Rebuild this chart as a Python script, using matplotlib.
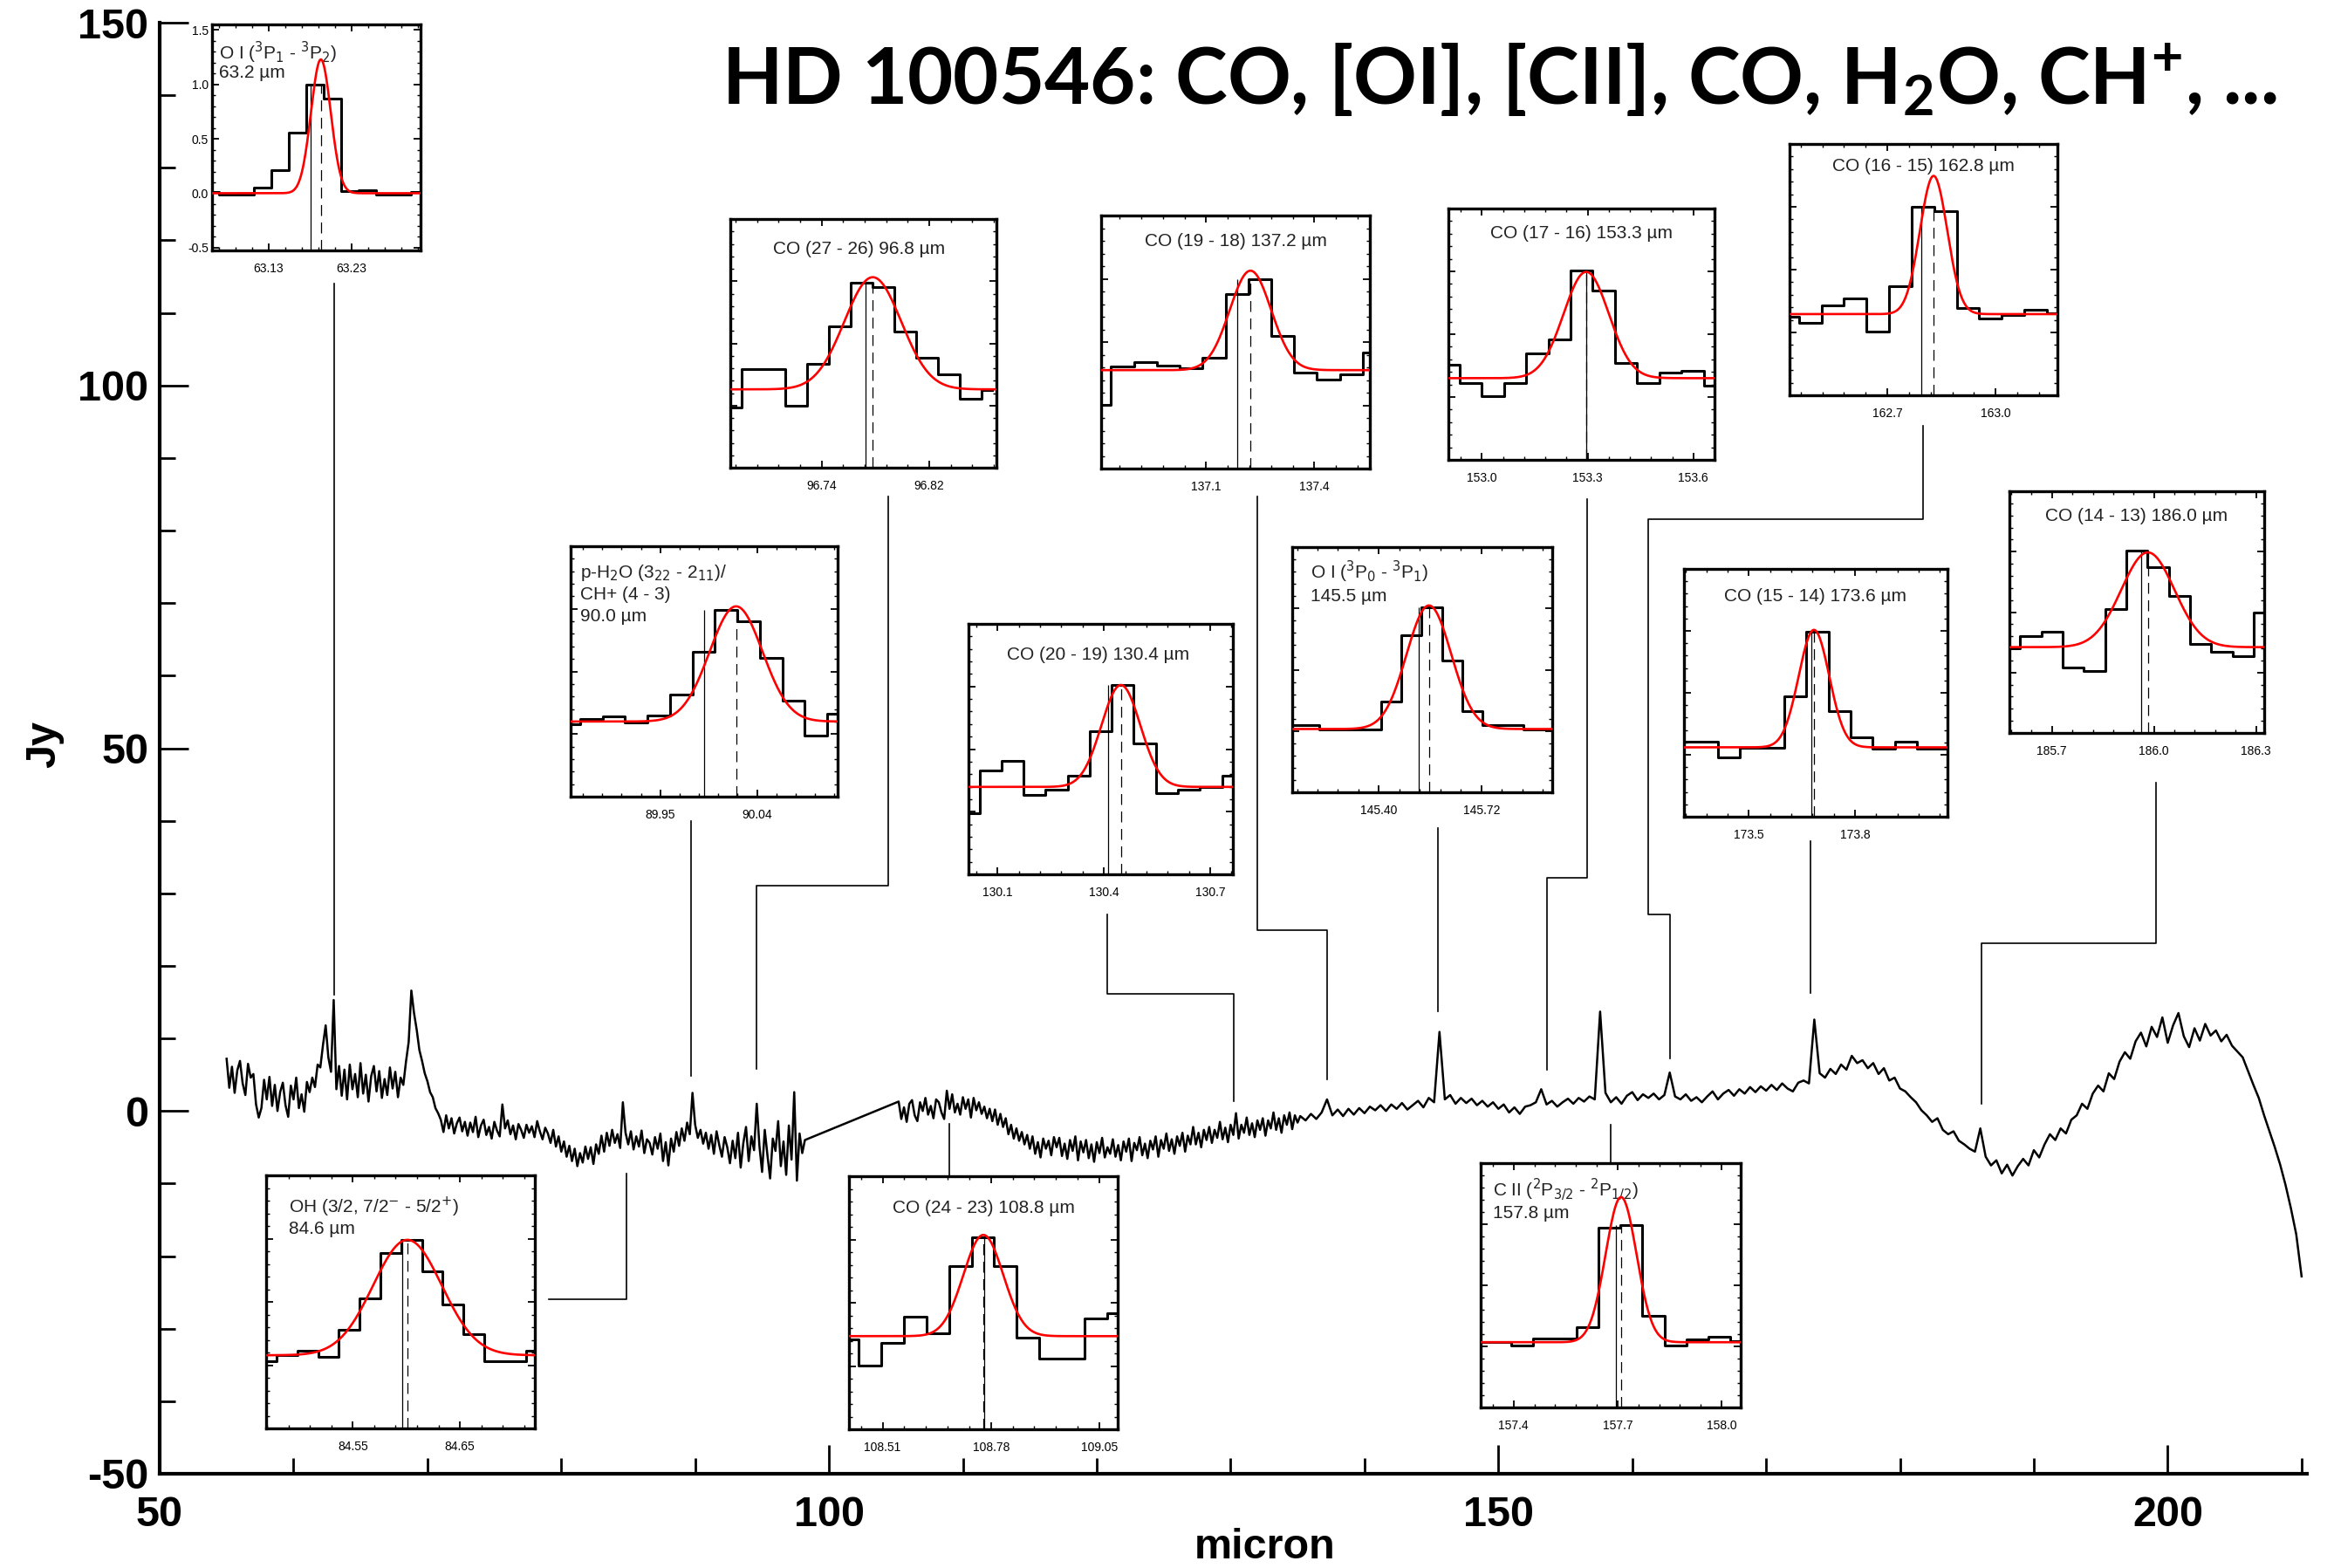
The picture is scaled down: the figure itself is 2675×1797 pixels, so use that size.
import numpy as np
import matplotlib
matplotlib.use("Agg")
import matplotlib.pyplot as plt
from matplotlib import font_manager
from matplotlib.ticker import MultipleLocator, AutoMinorLocator, FixedLocator

plt.rcParams["axes.unicode_minus"] = False
plt.rcParams["font.family"] = ["Liberation Sans", "DejaVu Sans"]
plt.rcParams["mathtext.rm"] = "Lato:bold"
plt.rcParams["mathtext.it"] = "Lato:bold"
plt.rcParams["mathtext.bf"] = "Lato:bold"

names = {f.name for f in font_manager.fontManager.ttflist}
narrow = "Liberation Sans Narrow" if "Liberation Sans Narrow" in names else "Liberation Sans"

# ---------------- PACS spectrum (micron, Jy) ----------------
wl_a = np.linspace(55.0, 98.2, 217)
flux_a = [7.2, 3.2, 6.1, 2.5, 5.6, 6.9, 3.8, 2.2, 6.5, 4.6,
          5.1, 0.9, -0.9, 0.4, 4.3, 1.6, 4.7, 0.7, 3.6, 0.0,
          2.6, 3.9, 0.8, -0.8, 3.5, 1.6, 4.6, 0.4, 2.3, -0.1,
          4.0, 2.6, 4.6, 3.3, 6.4, 6.0, 9.1, 11.8, 7.4, 5.4,
          15.3, 3.0, 6.2, 2.1, 5.7, 1.6, 6.4, 3.0, 5.1, 1.9,
          6.6, 2.4, 5.0, 1.3, 4.8, 6.2, 2.7, 5.5, 1.8, 4.4,
          2.2, 6.0, 3.1, 5.4, 1.9, 4.6, 3.6, 6.8, 9.5, 16.6,
          13.5, 11.2, 8.4, 6.9, 5.2, 4.1, 2.6, 1.9, 0.4, -0.3,
          -1.2, -2.9, -0.6, -2.4, -1.0, -3.1, -1.7, -0.9, -2.8, -1.5,
          -3.4, -1.6, -2.9, -0.8, -3.6, -2.0, -1.2, -3.3, -2.2, -3.8,
          -1.5, -2.7, -3.5, 0.9, -2.4, -1.3, -3.2, -2.0, -3.9, -1.8,
          -2.6, -3.7, -1.9, -3.0, -2.1, -3.6, -1.4, -2.8, -3.9, -2.3,
          -3.1, -4.4, -2.6, -4.9, -3.5, -5.6, -4.2, -6.3, -4.8, -6.9,
          -5.2, -7.6, -5.8, -7.1, -4.9, -6.6, -5.0, -7.3, -4.6, -5.9,
          -3.4, -5.6, -3.0, -4.8, -2.6, -4.4, -3.2, -5.1, 1.2, -3.0,
          -4.6, -2.8, -5.3, -3.5, -4.9, -2.7, -5.8, -3.9, -4.4, -6.0,
          -3.6, -5.2, -3.1, -6.9, -4.3, -7.5, -3.8, -5.6, -2.9, -4.8,
          -2.4, -4.1, -1.6, -3.2, 2.5, -1.9, -3.7, -2.6, -4.5, -3.0,
          -5.2, -3.3, -5.9, -2.8, -4.7, -6.3, -3.6, -5.0, -7.2, -4.1,
          -6.5, -3.0, -7.8, -4.4, -2.2, -6.9, -3.5, -5.4, 1.0, -4.8,
          -8.4, -2.6, -6.1, -9.3, -3.8, -5.5, -1.4, -7.6, -4.2, -8.8,
          -2.0, -6.7, 2.6, -9.6, -3.1, -5.8, -4.0]

wl_b1 = np.linspace(105.2, 135.0, 150)
flux_b1 = [1.3, -1.1, 0.5, -1.5, 1.0, 1.5, -0.6, -1.4, 1.2, 0.0,
           1.8, -0.5, 0.7, -1.0, 1.6, 1.2, -0.2, -1.1, 2.8, 0.3,
           2.3, -0.2, 1.0, -0.5, 1.9, 0.3, 1.6, -0.9, 1.8, 0.1,
           1.2, -0.4, 0.6, -1.0, 0.3, -1.4, 0.2, -1.9, -0.4, -2.2,
           -1.0, -3.2, -1.9, -3.8, -2.4, -4.1, -2.9, -4.6, -3.3, -5.2,
           -3.5, -5.9, -4.3, -6.4, -3.8, -5.2, -4.1, -6.1, -3.6, -5.0,
           -3.7, -6.2, -4.5, -6.6, -4.0, -5.5, -3.5, -6.8, -4.2, -5.7,
           -4.0, -6.5, -4.6, -7.0, -4.3, -5.8, -3.7, -6.4, -5.0, -5.9,
           -3.9, -6.3, -4.7, -6.8, -4.2, -5.6, -3.8, -6.9, -4.4, -5.4,
           -3.6, -6.1, -4.5, -6.5, -4.1, -5.3, -3.5, -6.3, -4.0, -5.2,
           -3.1, -5.5, -3.9, -5.9, -3.5, -4.8, -3.0, -5.6, -3.4, -4.6,
           -2.2, -4.6, -3.0, -5.0, -2.6, -4.0, -2.2, -4.4, -2.6, -3.7,
           -1.5, -3.9, -2.3, -4.3, -1.9, -3.3, -0.3, -3.8, -1.9, -3.0,
           -0.9, -3.3, -1.7, -3.6, -1.3, -2.6, -1.0, -3.4, -1.3, -2.4,
           -0.2, -2.6, -1.0, -3.0, -0.6, -1.9, -0.2, -2.5, -0.6, -1.6]

wl_b2 = np.linspace(135.2, 210.0, 188)
flux_b2 = [-0.7, -1.3, -0.4, -1.1, -0.2,
           1.6, -0.6, 0.2, -0.7, 0.3, -0.5, 0.4, -0.3, 0.6, 0.1,
           0.8, 0.0, 0.9, 0.3, 1.1, 0.2, 0.8, 1.4, 0.5, 1.8,
           1.2, 10.9, 1.6, 2.2, 1.0, 1.8, 1.1, 1.7, 0.8, 1.4,
           0.6, 1.2, 0.3, 0.9, -0.2, 0.5, -0.4, 0.6, 0.8, 1.2,
           3.0, 0.9, 1.4, 0.6, 1.2, 1.7, 1.0, 1.8, 1.3, 2.0,
           1.6, 13.7, 2.5, 1.2, 1.9, 1.0, 2.1, 2.6, 1.5, 2.3,
           1.8, 2.4, 1.6, 2.2, 5.3, 2.0, 1.6, 2.3, 1.4, 1.9,
           1.2, 2.0, 2.7, 1.6, 2.4, 2.9, 2.1, 3.0, 2.4, 3.3,
           2.6, 3.4, 2.8, 3.6, 2.9, 3.8, 3.1, 2.7, 3.9, 4.2,
           3.8, 12.6, 5.2, 4.6, 5.8, 5.1, 6.4, 5.7, 7.6, 6.6,
           7.0, 5.9, 6.6, 5.1, 5.9, 4.2, 4.6, 3.1, 2.7, 1.9,
           1.2, 0.1, -0.6, -1.5, -1.0, -2.6, -3.2, -2.8, -4.1, -4.6,
           -5.2, -5.6, -2.4, -6.3, -7.5, -6.8, -8.6, -7.4, -8.9, -7.6,
           -6.6, -7.5, -5.4, -6.4, -4.6, -3.2, -4.0, -2.4, -3.1, -1.2,
           -0.6, 1.0, 0.3, 2.4, 3.5, 2.7, 5.2, 4.4, 6.8, 8.1,
           7.2, 9.6, 10.8, 8.9, 11.6, 10.2, 12.9, 9.4, 11.8, 13.5,
           10.3, 8.8, 11.4, 9.7, 12.0, 10.4, 11.1, 9.6, 10.5, 9.0,
           8.2, 7.4, 5.5, 3.6, 1.8, -0.6, -2.8, -5.0, -7.4, -10.2,
           -13.4, -17.0, -22.8]

# leader lines from spectral features to the zoom boxes (micron, Jy)
leaders = [
    [(63.05, 114.0), (63.05, 16.0)],
    [(79.1, -25.9), (84.9, -25.9), (84.9, -8.6)],
    [(89.7, 40.0), (89.7, 4.9)],
    [(104.4, 84.7), (104.4, 31.0), (94.6, 31.0), (94.6, 5.8)],
    [(109.0, -9.2), (109.0, -1.8)],
    [(120.8, 27.1), (120.8, 16.1), (130.2, 16.1), (130.2, 1.3)],
    [(132.0, 84.7), (132.0, 24.9), (137.2, 24.9), (137.2, 4.3)],
    [(145.5, 39.0), (145.5, 13.8)],
    [(156.6, 84.3), (156.6, 32.2), (153.6, 32.2), (153.6, 5.7)],
    [(158.4, -7.4), (158.4, -1.9)],
    [(181.7, 94.4), (181.7, 81.6), (161.2, 81.6), (161.2, 27.1), (162.8, 27.1), (162.8, 7.3)],
    [(173.3, 37.2), (173.3, 16.3)],
    [(199.1, 45.3), (199.1, 23.1), (186.1, 23.1), (186.1, 1.0)],
]

# ---------------- zoomed line profiles (binned flux, normalised) ----------------
oi63_flux = [0.01, -0.01, -0.01, 0.05, 0.21, 0.56, 1.00, 0.87, 0.02, 0.03, -0.01, -0.01, 0.01]
h2o90_flux = [0.29, 0.311, 0.319, 0.296, 0.325, 0.406, 0.58, 0.745, 0.702, 0.555, 0.385, 0.244, 0.331]
co2726_flux = [0.243, 0.397, 0.397, 0.249, 0.418, 0.570, 0.745, 0.728, 0.547, 0.442, 0.377, 0.278, 0.313]
co1918_flux = [0.253, 0.405, 0.422, 0.407, 0.397, 0.439, 0.690, 0.747, 0.525, 0.379, 0.351, 0.374, 0.460]
co1716_flux = [0.377, 0.307, 0.252, 0.304, 0.424, 0.479, 0.754, 0.675, 0.386, 0.307, 0.346, 0.354, 0.296]
co1615_flux = [0.312, 0.287, 0.356, 0.384, 0.254, 0.434, 0.749, 0.734, 0.347, 0.306, 0.321, 0.341, 0.326]
co2019_flux = [0.244, 0.416, 0.453, 0.316, 0.337, 0.393, 0.570, 0.756, 0.523, 0.323, 0.337, 0.347, 0.393]
oi145_flux = [0.273, 0.273, 0.255, 0.255, 0.255, 0.370, 0.641, 0.753, 0.536, 0.332, 0.273, 0.275, 0.255, 0.255]
co1514_flux = [0.302, 0.302, 0.241, 0.279, 0.279, 0.487, 0.748, 0.426, 0.320, 0.273, 0.302, 0.273, 0.273]
co1413_flux = [0.349, 0.401, 0.418, 0.271, 0.255, 0.514, 0.755, 0.687, 0.566, 0.370, 0.337, 0.319, 0.500]
oh84_flux = [0.266, 0.291, 0.306, 0.283, 0.390, 0.513, 0.693, 0.745, 0.619, 0.490, 0.372, 0.266, 0.266, 0.306]
co2423_flux = [0.356, 0.253, 0.341, 0.445, 0.379, 0.644, 0.759, 0.644, 0.362, 0.279, 0.279, 0.439, 0.460]
cii158_flux = [0.267, 0.267, 0.252, 0.281, 0.281, 0.330, 0.736, 0.746, 0.374, 0.255, 0.279, 0.291, 0.271]

# first bin centre and bin width (micron)
bins = {
    "oi63": (63.060, 0.021), "h2o90": (89.865, 0.0209), "co2726": (96.6725, 0.0162),
    "co1918": (136.805, 0.0634), "co1716": (152.905, 0.0630), "co1615": (162.424, 0.0624),
    "co2019": (130.018, 0.0622), "oi145": (145.119, 0.0637), "co1514": (173.318, 0.0626),
    "co1413": (185.575, 0.0625), "oh84": (84.469, 0.0194), "co2423": (108.422, 0.0563),
    "cii158": (157.297, 0.0633),
}
# gaussian fits: continuum, amplitude, centre, fwhm
fits = {
    "oi63": (0.0, 1.23, 63.193, 0.028), "h2o90": (0.30, 0.46, 90.0205, 0.058),
    "co2726": (0.315, 0.451, 96.778, 0.0497), "co1918": (0.389, 0.393, 137.223, 0.135),
    "co1716": (0.325, 0.423, 153.296, 0.151), "co1615": (0.323, 0.55, 162.828, 0.089),
    "co2019": (0.349, 0.407, 130.448, 0.129), "oi145": (0.258, 0.504, 145.556, 0.164),
    "co1514": (0.28, 0.474, 173.684, 0.102), "co1413": (0.355, 0.392, 185.982, 0.184),
    "oh84": (0.289, 0.456, 84.601, 0.0754), "co2423": (0.368, 0.40, 108.761, 0.117),
    "cii158": (0.267, 0.594, 157.710, 0.105),
}
rest_wl = {
    "oi63": 63.181, "h2o90": 89.991, "co2726": 96.7725, "co1918": 137.186, "co1716": 153.296,
    "co1615": 162.794, "co2019": 130.411, "oi145": 145.525, "co1514": 173.677,
    "co1413": 185.962, "oh84": 84.596, "co2423": 108.764, "cii158": 157.694,
}
xranges = {
    "oi63": (63.062, 63.313), "h2o90": (89.8665, 90.115), "co2726": (96.672, 96.870),
    "co1918": (136.809, 137.554), "co1716": (152.905, 153.66), "co1615": (162.429, 163.171),
    "co2019": (130.018, 130.764), "oi145": (145.129, 145.941), "co1514": (173.316, 174.062),
    "co1413": (185.575, 186.324), "oh84": (84.469, 84.720), "co2423": (108.426, 109.096),
    "cii158": (157.305, 158.055),
}
xtick_labels = {
    "oi63": ["63.13", "63.23"], "h2o90": ["89.95", "90.04"], "co2726": ["96.74", "96.82"],
    "co1918": ["137.1", "137.4"], "co1716": ["153.0", "153.3", "153.6"],
    "co1615": ["162.7", "163.0"], "co2019": ["130.1", "130.4", "130.7"],
    "oi145": ["145.40", "145.72"], "co1514": ["173.5", "173.8"],
    "co1413": ["185.7", "186.0", "186.3"], "oh84": ["84.55", "84.65"],
    "co2423": ["108.51", "108.78", "109.05"], "cii158": ["157.4", "157.7", "158.0"],
}
titles = {
    "oi63": ["O I ($^3$P$_1$ - $^3$P$_2$)", "63.2 µm"],
    "h2o90": ["p-H$_2$O (3$_{22}$ - 2$_{11}$)/", "CH+ (4 - 3)", "90.0 µm"],
    "co2726": ["CO (27 - 26) 96.8 µm"], "co1918": ["CO (19 - 18) 137.2 µm"],
    "co1716": ["CO (17 - 16) 153.3 µm"], "co1615": ["CO (16 - 15) 162.8 µm"],
    "co2019": ["CO (20 - 19) 130.4 µm"],
    "oi145": ["O I ($^3$P$_0$ - $^3$P$_1$)", "145.5 µm"],
    "co1514": ["CO (15 - 14) 173.6 µm"], "co1413": ["CO (14 - 13) 186.0 µm"],
    "oh84": ["OH (3/2, 7/2$^{-}$ - 5/2$^{+}$)", "84.6 µm"],
    "co2423": ["CO (24 - 23) 108.8 µm"],
    "cii158": ["C II ($^2$P$_{3/2}$ - $^2$P$_{1/2}$)", "157.8 µm"],
}
profiles = {
    "oi63": oi63_flux, "h2o90": h2o90_flux, "co2726": co2726_flux, "co1918": co1918_flux,
    "co1716": co1716_flux, "co1615": co1615_flux, "co2019": co2019_flux, "oi145": oi145_flux,
    "co1514": co1514_flux, "co1413": co1413_flux, "oh84": oh84_flux, "co2423": co2423_flux,
    "cii158": cii158_flux,
}

# layout: box in pixels (left, right, top, bottom), label x, label ys, alignment
W, H = 2675, 1797
layout = {
    "oi63": ((243, 482, 28, 287), 0.035, [0.875, 0.785], "left"),
    "h2o90": ((654, 960, 626, 913), 0.036, [0.893, 0.806, 0.719], "left"),
    "co2726": ((837, 1142, 251, 536), 0.485, [0.88], "center"),
    "co1918": ((1262, 1570, 247, 537), 0.5, [0.897], "center"),
    "co1716": ((1660, 1965, 239, 527), 0.5, [0.90], "center"),
    "co1615": ((2051, 2358, 165, 453), 0.5, [0.913], "center"),
    "co2019": ((1110, 1413, 715, 1002), 0.49, [0.878], "center"),
    "oi145": ((1481, 1779, 627, 908), 0.07, [0.90, 0.80], "left"),
    "co1514": ((1930, 2232, 652, 936), 0.5, [0.889], "center"),
    "co1413": ((2303, 2595, 563, 840), 0.5, [0.898], "center"),
    "oh84": ((305, 613, 1347, 1637), 0.084, [0.874, 0.788], "left"),
    "co2423": ((973, 1281, 1348, 1638), 0.5, [0.874], "center"),
    "cii158": ((1697, 1995, 1333, 1613), 0.048, [0.891, 0.796], "left"),
}

fig = plt.figure(figsize=(W / 100, H / 100), dpi=100)

# ---------------- main spectrum ----------------
ax = fig.add_axes([183 / W, 1 - 1689 / H, (2644 - 183) / W, (1689 - 26) / H])
wl = np.concatenate([wl_a, wl_b1, wl_b2])
flux = np.concatenate([flux_a, flux_b1, flux_b2])
ax.plot(wl, flux, color="black", lw=1.8, zorder=3)
for path in leaders:
    xs, ys = zip(*path)
    ax.plot(xs, ys, color="black", lw=1.2, zorder=2)

ax.set_xlim(50, 210.4)
ax.set_ylim(-50, 150)
ax.spines[["top", "right"]].set_visible(False)
ax.spines[["left", "bottom"]].set_linewidth(3)
ax.set_xticks([50, 100, 150, 200], labels=["50", "100", "150", "200"],
              fontsize=35, fontweight="bold", fontfamily=narrow)
ax.set_yticks([-50, 0, 50, 100, 150], labels=["-50", "0", "50", "100", "150"],
              fontsize=35, fontweight="bold", fontfamily=narrow)
ax.xaxis.set_minor_locator(MultipleLocator(10))
ax.yaxis.set_minor_locator(MultipleLocator(10))
ax.tick_params(which="both", direction="in", width=2)
ax.tick_params(which="major", length=24)
ax.tick_params(which="minor", length=13)
ax.tick_params(axis="x", which="major", pad=18)
ax.tick_params(axis="y", which="major", pad=9)

fig.text(1450 / W, 1 - 1774 / H, "micron", ha="center", va="center",
         fontsize=35, fontweight="bold", family=narrow)
fig.text(51 / W, 1 - 853 / H, "Jy", ha="center", va="center", rotation=90,
         fontsize=35, fontweight="bold", family=narrow)

title = fig.text(827 / W, 1 - 119 / H,
                 r"HD 100546: CO, [OI], [CII], CO, H$_\mathrm{2}$O, CH$^\mathrm{+}$, ...",
                 ha="left", va="baseline", fontsize=60, fontweight="bold",
                 family=["Lato", "DejaVu Sans"], math_fontfamily="custom")
fig.canvas.draw()
tw = title.get_window_extent().width
title.set_fontsize(60 * 1783 / tw)

# ---------------- zoom boxes ----------------
for key, (box, tx, tys, ha) in layout.items():
    l, r, t, b = box
    a = fig.add_axes([l / W, 1 - b / H, (r - l) / W, (b - t) / H])
    vals = np.array(profiles[key])
    start, width = bins[key]
    centers = start + width * np.arange(len(vals))
    a.step(centers, vals, where="mid", color="black", lw=2.2, zorder=3)
    cont, amp, cen, fwhm = fits[key]
    xx = np.linspace(*xranges[key], 400)
    sig = fwhm / 2.3548
    a.plot(xx, cont + amp * np.exp(-0.5 * ((xx - cen) / sig) ** 2), color="#ff0000", lw=1.9, zorder=4)

    ylo, yhi = (-0.526, 1.552) if key == "oi63" else (0.0, 1.0)
    top = vals.max()
    a.vlines(rest_wl[key], ylo, top, color="black", lw=0.9, zorder=2)
    a.vlines(cen, ylo, top, color="black", lw=0.9, linestyles=(0, (10, 6)), zorder=2)
    a.set_xlim(*xranges[key])
    a.set_ylim(ylo, yhi)

    labs = xtick_labels[key]
    a.xaxis.set_major_locator(FixedLocator([float(v) for v in labs]))
    a.set_xticklabels(labs)
    a.xaxis.set_minor_locator(AutoMinorLocator(5))
    if key == "oi63":
        a.yaxis.set_major_locator(MultipleLocator(0.5))
        a.yaxis.set_minor_locator(MultipleLocator(0.1))
        a.set_yticks([-0.5, 0.0, 0.5, 1.0, 1.5], labels=["-0.5", "0.0", "0.5", "1.0", "1.5"])
    else:
        a.yaxis.set_major_locator(MultipleLocator(0.25))
        a.yaxis.set_minor_locator(MultipleLocator(0.05))
        a.tick_params(axis="y", labelleft=False)
    a.tick_params(which="both", direction="in", top=True, right=True,
                  labelsize=10, labelfontfamily=narrow)
    a.tick_params(which="major", length=6, width=1.3)
    a.tick_params(which="minor", length=3, width=1.0)
    a.tick_params(axis="x", pad=10)
    a.tick_params(axis="y", pad=3)
    for s in a.spines.values():
        s.set_linewidth(2.4)

    for line, ty in zip(titles[key], tys):
        a.text(tx, ty, line, transform=a.transAxes, ha=ha, va="center",
               fontsize=15, color="#222222")

fig.savefig("out.png", dpi=100)
